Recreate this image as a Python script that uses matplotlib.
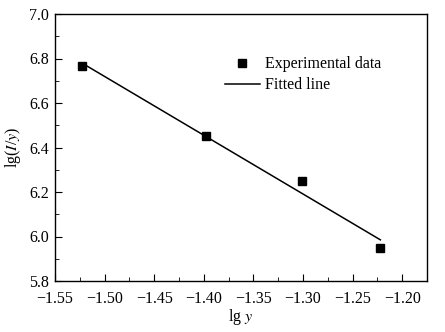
import matplotlib
matplotlib.use('Agg')
import matplotlib.pyplot as plt
from matplotlib.ticker import MultipleLocator

plt.rcParams['font.family'] = 'Liberation Serif'
plt.rcParams['mathtext.fontset'] = 'stix'

# measured points
lg_y = [-1.523, -1.398, -1.301, -1.222]
lg_Iy = [6.765, 6.45, 6.25, 5.95]
# fitted line end points
fit_x = [-1.523, -1.222]
fit_y = [6.78, 5.985]

fig = plt.figure(figsize=(4.45, 3.32), dpi=100)
ax = fig.add_axes([55 / 445, 1 - 281 / 332, 372 / 445, 267 / 332])

ax.plot(lg_y, lg_Iy, 's', color='black', markersize=5.5, label='Experimental data')
ax.plot(fit_x, fit_y, '-', color='black', linewidth=1.1, label='Fitted line')

ax.set_xlim(-1.55, -1.175)
ax.set_ylim(5.8, 7.0)
ax.xaxis.set_major_locator(MultipleLocator(0.05))
ax.xaxis.set_minor_locator(MultipleLocator(0.025))
ax.yaxis.set_major_locator(MultipleLocator(0.2))
ax.yaxis.set_minor_locator(MultipleLocator(0.1))
ax.xaxis.set_major_formatter(plt.FuncFormatter(lambda v, p: f'{v:.2f}'.replace('-', '\u2212')))
ax.yaxis.set_major_formatter(plt.FuncFormatter(lambda v, p: f'{v:.1f}'))
ax.tick_params(which='both', direction='in', labelsize=11.5)
ax.tick_params(which='major', length=5)
ax.tick_params(which='minor', length=3)
ax.tick_params(axis='x', pad=7)
ax.tick_params(axis='y', pad=4.5)
for s in ax.spines.values():
    s.set_linewidth(1.0)

ax.set_xlabel(r'lg $\mathit{y}$', fontsize=11.5, labelpad=0)
ax.set_ylabel(r'lg($\mathit{I}$/$\mathit{y}$)', fontsize=11.5, labelpad=4)

ax.legend(loc='upper left', bbox_to_anchor=(0.418, 0.895), frameon=False,
          fontsize=11.5, handlelength=2.2, handletextpad=0.3, labelspacing=0.3)

fig.savefig('out.png', dpi=100)
